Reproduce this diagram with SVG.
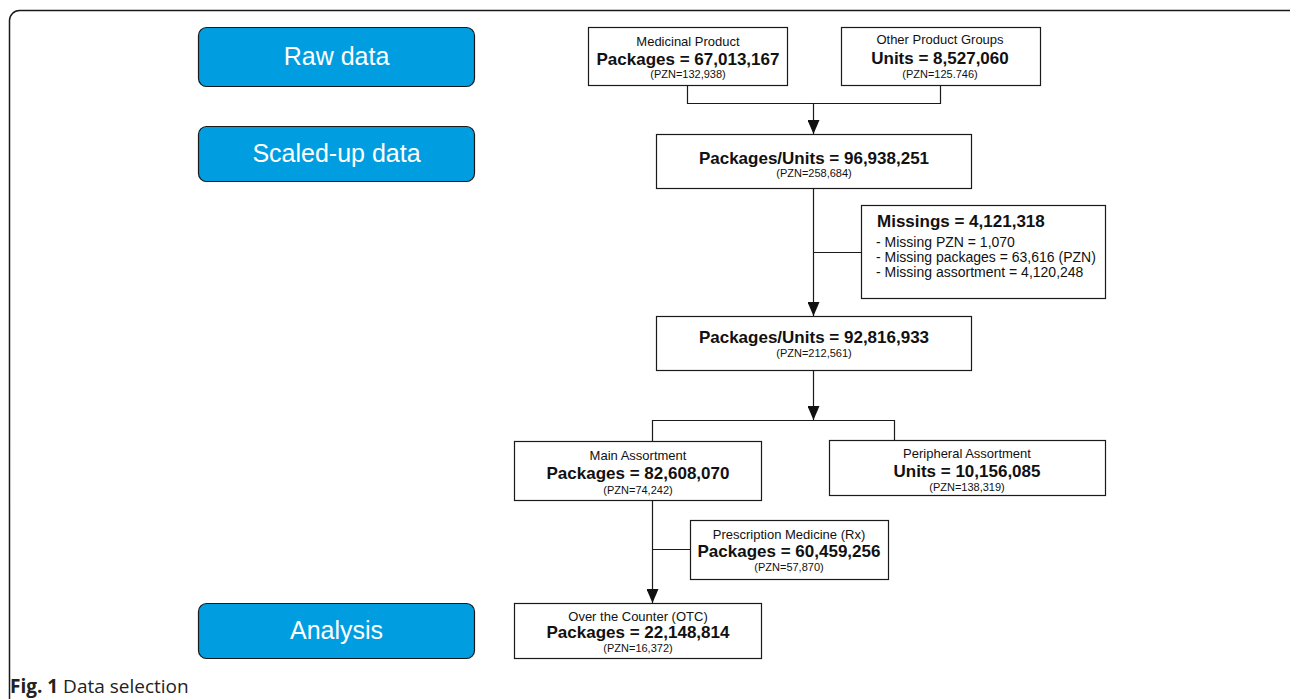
<svg xmlns="http://www.w3.org/2000/svg" width="1290" height="699" viewBox="0 0 1290 699">
<defs>
<style>
.stage{fill:#009ee0;stroke:#1a1a1a;stroke-width:1.2}
.stage-t{font-family:"Liberation Sans",Arial,sans-serif;font-size:25px;fill:#fff;text-anchor:middle}
.box{fill:#fff;stroke:#1a1a1a;stroke-width:1.2}
.t{font-family:"Liberation Sans",Arial,sans-serif;fill:#111;text-anchor:middle}
.s{font-size:13px}
.b{font-size:17px;font-weight:bold}
.p{font-size:11px}
.l{font-family:"Liberation Sans",Arial,sans-serif;fill:#111;font-size:14px}
.c{fill:none;stroke:#1a1a1a;stroke-width:1.2}
</style>
<marker id="ah" viewBox="0 0 14 12" refX="14" refY="6" markerWidth="14" markerHeight="12" markerUnits="userSpaceOnUse" orient="auto">
<path d="M0,0 L14,6 L0,12 z" fill="#111"/>
</marker>
</defs>
<rect x="0" y="0" width="1290" height="699" fill="#fff"/>
<rect x="9.5" y="10.5" width="1290" height="720" rx="10" fill="none" stroke="#1a1a1a" stroke-width="1.5"/>

<g id="stage-raw"><rect class="stage" x="198.5" y="27.5" width="276" height="59" rx="8"/><text class="stage-t" x="336.5" y="65">Raw data</text></g>
<g id="stage-scaled"><rect class="stage" x="198.5" y="126.5" width="276" height="55" rx="8"/><text class="stage-t" x="336.5" y="162">Scaled-up data</text></g>
<g id="stage-analysis"><rect class="stage" x="198.5" y="603.5" width="276" height="55" rx="8"/><text class="stage-t" x="336.5" y="639">Analysis</text></g>

<g id="connectors">
<path class="c" d="M687.5,85 V103.5 H940.5 V85"/>
<path class="c" d="M813.5,103.5 V134" marker-end="url(#ah)"/>
<path class="c" d="M813.5,188 V316" marker-end="url(#ah)"/>
<path class="c" d="M813.5,252.5 H861"/>
<path class="c" d="M813.5,370 V420" marker-end="url(#ah)"/>
<path class="c" d="M652.5,441 V420.5 H894.5 V440"/>
<path class="c" d="M652.5,500 V603" marker-end="url(#ah)"/>
<path class="c" d="M652.5,549.5 H690"/>
</g>

<g id="medicinal"><rect class="box" x="588.5" y="27.5" width="199" height="58"/>
<text class="t s" x="688" y="46">Medicinal Product</text>
<text class="t b" x="688" y="65">Packages = 67,013,167</text>
<text class="t p" x="688" y="78">(PZN=132,938)</text></g>

<g id="other"><rect class="box" x="841.5" y="27.5" width="199" height="58"/>
<text class="t s" x="940" y="44">Other Product Groups</text>
<text class="t b" x="940" y="64">Units = 8,527,060</text>
<text class="t p" x="940" y="78">(PZN=125.746)</text></g>

<g id="scaled"><rect class="box" x="656.5" y="134.5" width="315" height="54"/>
<text class="t b" x="814" y="164">Packages/Units = 96,938,251</text>
<text class="t p" x="814" y="177">(PZN=258,684)</text></g>

<g id="missings"><rect class="box" x="861.5" y="205.5" width="244" height="93"/>
<text class="l" x="877" y="227" style="font-size:17px;font-weight:bold">Missings = 4,121,318</text>
<text class="l" x="876" y="247">- Missing PZN = 1,070</text>
<text class="l" x="876" y="262">- Missing packages = 63,616 (PZN)</text>
<text class="l" x="876" y="277">- Missing assortment = 4,120,248</text></g>

<g id="filtered"><rect class="box" x="656.5" y="316.5" width="315" height="54"/>
<text class="t b" x="814" y="343">Packages/Units = 92,816,933</text>
<text class="t p" x="814" y="357">(PZN=212,561)</text></g>

<g id="main"><rect class="box" x="514.5" y="441.5" width="247" height="59"/>
<text class="t s" x="638" y="460">Main Assortment</text>
<text class="t b" x="638" y="479">Packages = 82,608,070</text>
<text class="t p" x="638" y="494">(PZN=74,242)</text></g>

<g id="peripheral"><rect class="box" x="829.5" y="440.5" width="276" height="55"/>
<text class="t s" x="967" y="458">Peripheral Assortment</text>
<text class="t b" x="967" y="477">Units = 10,156,085</text>
<text class="t p" x="967" y="491">(PZN=138,319)</text></g>

<g id="rx"><rect class="box" x="690.5" y="520.5" width="198" height="59"/>
<text class="t s" x="789" y="539">Prescription Medicine (Rx)</text>
<text class="t b" x="789" y="557">Packages = 60,459,256</text>
<text class="t p" x="789" y="571">(PZN=57,870)</text></g>

<g id="otc"><rect class="box" x="514.5" y="603.5" width="247" height="55"/>
<text class="t s" x="638" y="621">Over the Counter (OTC)</text>
<text class="t b" x="638" y="638">Packages = 22,148,814</text>
<text class="t p" x="638" y="652">(PZN=16,372)</text></g>

<text x="10" y="693" style="font-family:'Open Sans','Liberation Sans',sans-serif;font-size:19px;fill:#222"><tspan font-weight="bold">Fig. 1</tspan> Data selection</text>
</svg>
